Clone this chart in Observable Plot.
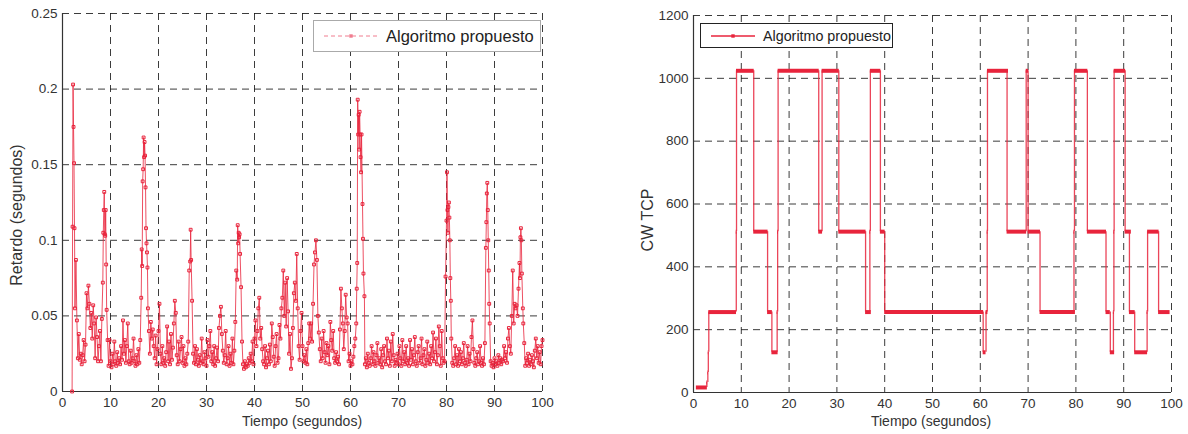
<!DOCTYPE html>
<html><head><meta charset="utf-8">
<script src="https://cdn.jsdelivr.net/npm/d3@7"></script>
<script src="https://cdn.jsdelivr.net/npm/@observablehq/plot@0.6"></script>
<style>
body{margin:0;background:#fff;}
#wrap{position:relative;width:1188px;height:434px;overflow:hidden;font-family:"Liberation Sans",Arial,sans-serif;color:#222;}
.ytitle{position:absolute;white-space:nowrap;transform:translate(-50%,-50%) rotate(-90deg);font-size:16px;color:#333;}
.xtitle{position:absolute;white-space:nowrap;transform:translate(-50%,-50%);font-size:14px;color:#333;}
.legend{position:absolute;box-sizing:border-box;background:#fff;display:flex;align-items:center;white-space:nowrap;}
</style></head><body><div id="wrap"></div>
<script>
const RED = "#e8243c";
const xTicks = [0,10,20,30,40,50,60,70,80,90,100];
const delayTicks = [0,0.05,0.1,0.15,0.2,0.25];
const cwTicks = [0,200,400,600,800,1000,1200];
const legendLabel = "Algoritmo propuesto";

// Retardo (s) vs tiempo (s)
const delay00 = [[2.0,0.000],[2.1,0.109],[2.2,0.203],[2.3,0.175],[2.4,0.151],[2.5,0.108],[2.6,0.055],[2.8,0.087],[3.0,0.047],[3.2,0.022],[3.4,0.038],[3.6,0.021],[3.8,0.025],[4.0,0.018],[4.2,0.024],[4.4,0.034],[4.6,0.020],[4.8,0.031],[5.0,0.065],[5.2,0.055],[5.4,0.070],[5.6,0.058],[5.8,0.042],[6.0,0.052],[6.2,0.035],[6.4,0.057],[6.6,0.045],[6.8,0.022],[7.0,0.049],[7.2,0.036],[7.4,0.020],[7.6,0.030],[7.8,0.040],[8.0,0.020],[8.2,0.048],[8.4,0.072],[8.5,0.105],[8.6,0.120],[8.7,0.132],[8.8,0.104],[8.9,0.103],[9.0,0.120],[9.1,0.084],[9.2,0.054],[9.4,0.034],[9.6,0.017],[9.8,0.034],[10.0,0.020]];
const delay10 = [[10.2,0.016],[10.4,0.025],[10.6,0.018],[10.8,0.033],[11.0,0.020],[11.2,0.017],[11.4,0.026],[11.6,0.019],[11.8,0.022],[12.0,0.018],[12.2,0.030],[12.4,0.021],[12.6,0.047],[12.8,0.025],[13.0,0.034],[13.2,0.019],[13.4,0.030],[13.6,0.045],[13.8,0.020],[14.0,0.018],[14.2,0.027],[14.4,0.019],[14.6,0.022],[14.8,0.035],[15.0,0.020],[15.2,0.017],[15.4,0.024],[15.6,0.018],[15.8,0.028],[16.0,0.019],[16.2,0.034],[16.4,0.062],[16.5,0.094],[16.6,0.083],[16.7,0.139],[16.8,0.147],[16.9,0.168],[17.0,0.155],[17.1,0.165],[17.2,0.156],[17.3,0.135],[17.4,0.108],[17.5,0.098],[17.6,0.092],[17.7,0.082],[17.8,0.055],[18.0,0.040],[18.2,0.025],[18.4,0.046],[18.6,0.035],[18.8,0.041],[19.0,0.030],[19.2,0.022],[19.4,0.037],[19.6,0.018],[19.8,0.028],[20.0,0.040]];
const delay20 = [[20.2,0.058],[20.4,0.025],[20.6,0.018],[20.8,0.030],[21.0,0.019],[21.2,0.022],[21.4,0.017],[21.6,0.026],[21.8,0.043],[22.0,0.020],[22.2,0.033],[22.4,0.018],[22.6,0.038],[22.8,0.021],[23.0,0.029],[23.2,0.045],[23.4,0.060],[23.6,0.052],[23.8,0.024],[24.0,0.018],[24.2,0.033],[24.4,0.020],[24.6,0.028],[24.8,0.036],[25.0,0.019],[25.2,0.030],[25.4,0.017],[25.6,0.022],[25.8,0.018],[26.0,0.025],[26.2,0.033],[26.4,0.080],[26.6,0.086],[26.7,0.107],[26.8,0.087],[27.0,0.060],[27.2,0.025],[27.4,0.019],[27.6,0.030],[27.8,0.018],[28.0,0.028],[28.2,0.021],[28.4,0.017],[28.6,0.024],[28.8,0.019],[29.0,0.035],[29.2,0.020],[29.4,0.018],[29.6,0.026],[29.8,0.022],[30.0,0.017]];
const delay30 = [[30.2,0.034],[30.4,0.023],[30.6,0.030],[30.8,0.040],[31.0,0.020],[31.2,0.026],[31.4,0.018],[31.6,0.030],[31.8,0.017],[32.0,0.022],[32.2,0.029],[32.4,0.020],[32.6,0.042],[32.8,0.050],[33.0,0.056],[33.2,0.038],[33.4,0.027],[33.6,0.019],[33.8,0.024],[34.0,0.040],[34.2,0.018],[34.4,0.022],[34.6,0.030],[34.8,0.017],[35.0,0.025],[35.2,0.019],[35.4,0.035],[35.6,0.018],[35.8,0.027],[36.0,0.046],[36.2,0.080],[36.4,0.074],[36.5,0.110],[36.6,0.098],[36.7,0.105],[36.8,0.102],[36.9,0.104],[37.0,0.091],[37.2,0.069],[37.4,0.033],[37.6,0.018],[37.8,0.015],[38.0,0.020],[38.2,0.016],[38.4,0.018],[38.6,0.017],[38.8,0.022],[39.0,0.019],[39.2,0.025],[39.4,0.020],[39.6,0.033],[39.8,0.018],[40.0,0.035]];
const delay40 = [[40.2,0.047],[40.4,0.030],[40.6,0.040],[40.8,0.055],[41.0,0.062],[41.2,0.035],[41.4,0.042],[41.6,0.028],[41.8,0.020],[42.0,0.018],[42.2,0.030],[42.4,0.016],[42.6,0.022],[42.8,0.027],[43.0,0.018],[43.2,0.031],[43.4,0.020],[43.6,0.045],[43.8,0.036],[44.0,0.023],[44.2,0.017],[44.4,0.030],[44.6,0.038],[44.8,0.019],[45.0,0.022],[45.2,0.044],[45.4,0.035],[45.6,0.055],[45.8,0.062],[46.0,0.080],[46.2,0.050],[46.4,0.072],[46.6,0.043],[46.8,0.075],[47.0,0.053],[47.2,0.025],[47.4,0.038],[47.6,0.015],[47.8,0.022],[48.0,0.042],[48.2,0.065],[48.4,0.072],[48.6,0.060],[48.8,0.091],[49.0,0.055],[49.2,0.030],[49.4,0.021],[49.6,0.040],[49.8,0.052],[50.0,0.030]];
const delay50 = [[50.2,0.020],[50.4,0.024],[50.6,0.019],[50.8,0.028],[51.0,0.018],[51.2,0.032],[51.4,0.045],[51.6,0.035],[51.8,0.045],[52.0,0.033],[52.2,0.058],[52.4,0.084],[52.6,0.092],[52.8,0.100],[53.0,0.087],[53.2,0.050],[53.4,0.039],[53.6,0.028],[53.8,0.020],[54.0,0.035],[54.2,0.022],[54.4,0.040],[54.6,0.026],[54.8,0.019],[55.0,0.032],[55.2,0.024],[55.4,0.030],[55.6,0.018],[55.8,0.046],[56.0,0.034],[56.2,0.027],[56.4,0.040],[56.6,0.022],[56.8,0.019],[57.0,0.026],[57.2,0.020],[57.4,0.023],[57.6,0.018],[57.8,0.041],[58.0,0.068],[58.2,0.055],[58.4,0.045],[58.6,0.028],[58.8,0.040],[59.0,0.064],[59.2,0.049],[59.4,0.045],[59.6,0.020],[59.8,0.025],[60.0,0.017]];
const delay60 = [[60.2,0.020],[60.4,0.018],[60.6,0.023],[60.8,0.030],[61.0,0.035],[61.2,0.045],[61.3,0.068],[61.4,0.085],[61.5,0.193],[61.6,0.170],[61.7,0.183],[61.8,0.160],[61.9,0.185],[62.0,0.170],[62.1,0.155],[62.2,0.145],[62.3,0.170],[62.5,0.124],[62.6,0.101],[62.7,0.078],[62.9,0.063],[63.0,0.018],[63.2,0.022],[63.4,0.016],[63.6,0.025],[63.8,0.019],[64.0,0.017],[64.2,0.022],[64.4,0.030],[64.6,0.018],[64.8,0.026],[65.0,0.020],[65.2,0.017],[65.4,0.024],[65.6,0.032],[65.8,0.019],[66.0,0.022],[66.2,0.018],[66.4,0.028],[66.6,0.016],[66.8,0.024],[67.0,0.030],[67.2,0.020],[67.4,0.018],[67.6,0.035],[67.8,0.022],[68.0,0.027],[68.2,0.017],[68.4,0.033],[68.6,0.020],[68.8,0.038],[69.0,0.024],[69.2,0.017],[69.4,0.021],[69.6,0.019],[69.8,0.025],[70.0,0.018]];
const delay70 = [[70.2,0.030],[70.4,0.022],[70.6,0.017],[70.8,0.034],[71.0,0.020],[71.2,0.026],[71.4,0.018],[71.6,0.030],[71.8,0.019],[72.0,0.022],[72.2,0.017],[72.4,0.034],[72.6,0.021],[72.8,0.028],[73.0,0.018],[73.2,0.024],[73.4,0.036],[73.6,0.020],[73.8,0.017],[74.0,0.026],[74.2,0.030],[74.4,0.019],[74.6,0.022],[74.8,0.035],[75.0,0.018],[75.2,0.024],[75.4,0.028],[75.6,0.017],[75.8,0.021],[76.0,0.033],[76.2,0.019],[76.4,0.025],[76.6,0.018],[76.8,0.030],[77.0,0.022],[77.2,0.039],[77.4,0.020],[77.6,0.026],[77.8,0.035],[78.0,0.018],[78.2,0.024],[78.4,0.043],[78.6,0.030],[78.8,0.017],[79.0,0.040],[79.2,0.022],[79.4,0.019],[79.6,0.020],[79.8,0.076],[80.0,0.113]];
const delay80 = [[80.1,0.145],[80.2,0.120],[80.3,0.105],[80.4,0.122],[80.5,0.125],[80.6,0.115],[80.7,0.100],[80.8,0.075],[80.9,0.060],[81.0,0.035],[81.2,0.019],[81.4,0.017],[81.6,0.022],[81.8,0.030],[82.0,0.018],[82.2,0.024],[82.4,0.017],[82.6,0.028],[82.8,0.020],[83.0,0.026],[83.2,0.018],[83.4,0.022],[83.6,0.032],[83.8,0.019],[84.0,0.017],[84.2,0.021],[84.4,0.030],[84.6,0.018],[84.8,0.025],[85.0,0.020],[85.2,0.036],[85.4,0.047],[85.6,0.028],[85.8,0.019],[86.0,0.017],[86.2,0.022],[86.4,0.026],[86.6,0.018],[86.8,0.020],[87.0,0.030],[87.2,0.019],[87.4,0.017],[87.6,0.022],[87.8,0.018],[88.0,0.032],[88.2,0.095],[88.3,0.112],[88.4,0.131],[88.5,0.138],[88.6,0.120],[88.7,0.100],[88.8,0.080],[88.9,0.058],[89.0,0.045],[89.2,0.020],[89.4,0.017],[89.6,0.019],[89.8,0.016],[90.0,0.022]];
const delay90 = [[90.2,0.018],[90.4,0.020],[90.6,0.017],[90.8,0.024],[91.0,0.019],[91.2,0.022],[91.4,0.018],[91.6,0.021],[91.8,0.020],[92.0,0.030],[92.2,0.022],[92.4,0.026],[92.6,0.019],[92.8,0.035],[93.0,0.042],[93.2,0.030],[93.4,0.025],[93.6,0.050],[93.8,0.080],[94.0,0.045],[94.2,0.058],[94.4,0.055],[94.6,0.057],[94.8,0.050],[95.0,0.068],[95.2,0.085],[95.3,0.075],[95.4,0.102],[95.5,0.108],[95.6,0.100],[95.7,0.078],[95.9,0.055],[96.0,0.045],[96.2,0.032],[96.4,0.017],[96.6,0.022],[96.8,0.019],[97.0,0.025],[97.2,0.017],[97.4,0.021],[97.6,0.018],[97.8,0.024],[98.0,0.020],[98.2,0.016],[98.4,0.027],[98.6,0.035],[98.8,0.022],[99.0,0.030],[99.2,0.019],[99.4,0.026],[99.6,0.018],[99.8,0.030],[100.0,0.034]];

// Ventana de congestión TCP: tramos horizontales (inicio, fin, valor)
const cwStart = [0.6, 2.8, 3.0, 3.1, 3.2, 8.95, 9.0, 12.6, 15.5, 16.4, 17.5, 17.6, 17.7, 26.2, 26.9, 30.4, 36.0, 36.9, 37.0, 39.1, 40.0, 60.6, 61.2, 61.45, 61.5, 65.6, 69.6, 70.0, 72.5, 79.6, 79.7, 82.4, 86.3, 87.2, 87.85, 87.95, 88.0, 90.3, 91.2, 92.3, 94.9, 95.0, 97.3];
const cwEnd   = [2.9, 2.95, 3.1, 3.2, 9.0, 9.1, 12.7, 15.6, 16.5, 17.7, 17.65, 17.75, 26.3, 27.0, 30.5, 36.1, 37.2, 37.05, 39.2, 40.1, 60.7, 61.2, 61.6, 61.6, 65.9, 69.7, 70.1, 72.6, 79.9, 79.75, 82.5, 86.4, 87.2, 88.1, 88.0, 88.1, 90.4, 91.6, 92.4, 95.0, 95.05, 97.4, 99.7];
const cwValue = [16, 32, 64, 128, 256, 512, 1024, 512, 256, 128, 256, 512, 1024, 512, 1024, 512, 256, 512, 1024, 512, 256, 128, 256, 512, 1024, 512, 1024, 512, 256, 512, 1024, 512, 256, 128, 256, 512, 1024, 512, 256, 128, 256, 512, 256];

const delayData = [...delay00, ...delay10, ...delay20, ...delay30, ...delay40, ...delay50, ...delay60, ...delay70, ...delay80, ...delay90].map(([t, v]) => ({t, v}));
const cwSegs = cwStart.map((s, i) => ({x1: s, x2: cwEnd[i], y: cwValue[i]}));
const cwTrans = cwSegs.slice(1).map((s, i) => ({x: s.x1, y1: cwSegs[i].y, y2: s.y}));

const FONT = '"Liberation Sans", Arial, sans-serif';
const gridStyle = {stroke: "#1a1a1a", strokeOpacity: 0.85, strokeWidth: 1, strokeDasharray: "7,5"};
const baseStyle = {fontFamily: FONT, fontSize: "13.5px", color: "#333", background: "transparent", overflow: "visible"};

const left = Plot.plot({
  width: 594, height: 434,
  marginLeft: 62, marginRight: 52, marginTop: 13, marginBottom: 43,
  style: baseStyle,
  x: {domain: [0, 100], ticks: xTicks, tickSize: 0, tickPadding: 6, label: null},
  y: {domain: [0, 0.25], ticks: delayTicks, tickFormat: d => String(d), tickSize: 0, tickPadding: 5, label: null},
  marks: [
    Plot.gridX(xTicks.filter(d => d > 0), gridStyle),
    Plot.gridY(delayTicks.filter(d => d > 0), gridStyle),
    Plot.ruleX([0], {stroke: "#333", strokeWidth: 1.2}),
    Plot.ruleY([0], {stroke: "#333", strokeWidth: 1.2}),
    Plot.line(delayData, {x: "t", y: "v", stroke: RED, strokeWidth: 1, strokeOpacity: 0.8}),
    Plot.dot(delayData, {x: "t", y: "v", symbol: "square", r: 1.6, stroke: RED, strokeWidth: 1, fill: "none"})
  ]
});

const right = Plot.plot({
  width: 594, height: 434,
  marginLeft: 99, marginRight: 17, marginTop: 15, marginBottom: 42,
  style: baseStyle,
  x: {domain: [0, 100], ticks: xTicks, tickSize: 0, tickPadding: 6, label: null},
  y: {domain: [0, 1200], ticks: cwTicks, tickFormat: d => String(d), tickSize: 0, tickPadding: 5, label: null},
  marks: [
    Plot.gridX(xTicks.filter(d => d > 0), gridStyle),
    Plot.gridY(cwTicks.filter(d => d > 0), gridStyle),
    Plot.ruleX([0], {stroke: "#333", strokeWidth: 1.2}),
    Plot.ruleY([0], {stroke: "#333", strokeWidth: 1.2}),
    Plot.ruleX(cwTrans, {x: "x", y1: "y1", y2: "y2", stroke: RED, strokeWidth: 1.3, strokeOpacity: 0.85}),
    Plot.ruleY(cwSegs, {y: "y", x1: "x1", x2: "x2", stroke: RED, strokeWidth: 4})
  ]
});

const wrap = document.getElementById("wrap");
left.style.position = "absolute"; left.style.left = "0px"; left.style.top = "0px";
right.style.position = "absolute"; right.style.left = "594px"; right.style.top = "0px";
wrap.appendChild(left);
wrap.appendChild(right);

function addDiv(cls, text, x, y) {
  const d = document.createElement("div");
  d.className = cls; d.textContent = text;
  d.style.left = x + "px"; d.style.top = y + "px";
  wrap.appendChild(d);
  return d;
}
addDiv("ytitle", "Retardo (segundos)", 17, 215);
addDiv("ytitle", "CW TCP", 648, 220);
addDiv("xtitle", "Tiempo (segundos)", 302, 421);
addDiv("xtitle", "Tiempo (segundos)", 931, 421);

// Legends
function legend(x, y, w, h, border, fontSize, sampleW, dashed) {
  const box = document.createElement("div");
  box.className = "legend";
  Object.assign(box.style, {left: x + "px", top: y + "px", width: w + "px", height: h + "px", border: border});
  const ns = "http://www.w3.org/2000/svg";
  const svg = document.createElementNS(ns, "svg");
  svg.setAttribute("width", sampleW + 16); svg.setAttribute("height", 10);
  svg.style.marginLeft = "2px";
  const ln = document.createElementNS(ns, "line");
  ln.setAttribute("x1", 8); ln.setAttribute("x2", 8 + sampleW); ln.setAttribute("y1", 5); ln.setAttribute("y2", 5);
  ln.setAttribute("stroke", dashed ? "#f07d8f" : RED); ln.setAttribute("stroke-width", dashed ? 1 : 1.3);
  if (dashed) ln.setAttribute("stroke-dasharray", "4,3");
  svg.appendChild(ln);
  const sq = document.createElementNS(ns, "rect");
  sq.setAttribute("x", 8 + sampleW / 2 - 1.7); sq.setAttribute("y", 3.3); sq.setAttribute("width", 3.4); sq.setAttribute("height", 3.4);
  sq.setAttribute("fill", dashed ? "#f07d8f" : RED);
  svg.appendChild(sq);
  box.appendChild(svg);
  const t = document.createElement("span");
  t.textContent = legendLabel;
  Object.assign(t.style, {fontSize: fontSize + "px", color: "#222"});
  box.appendChild(t);
  wrap.appendChild(box);
}
legend(313, 20, 228, 32, "1px solid #aaa", 16.5, 54, true);
legend(700, 23, 193, 25, "1px solid #222", 14.3, 44, false);
</script>
</body></html>
